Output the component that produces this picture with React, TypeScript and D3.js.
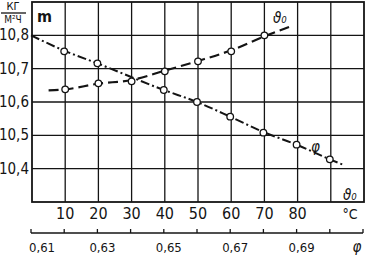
import React from 'react';
import * as d3 from 'd3';

// Размеры картинки и поля графика
const W = 369;
const H = 256;
const plot = { left: 32, right: 364, top: 2, bottom: 202 };

// Кривая ϑ₀ (°C) — пунктир
const tempT = [10, 20, 30, 40, 50, 60, 70];
const tempM = [10.638, 10.656, 10.662, 10.692, 10.722, 10.752, 10.8];
const tempLineT = [5, 10, 20, 30, 40, 50, 60, 70, 78];
const tempLineM = [10.635, 10.638, 10.655, 10.666, 10.694, 10.723, 10.755, 10.797, 10.827];

// Кривая φ — штрихпунктир
const phiX = [0.62, 0.63, 0.65, 0.66, 0.67, 0.68, 0.69, 0.70];
const phiM = [10.752, 10.716, 10.636, 10.6, 10.556, 10.508, 10.472, 10.428];
const phiLineX = [0.61, 0.62, 0.63, 0.65, 0.66, 0.67, 0.68, 0.69, 0.70, 0.704];
const phiLineM = [10.8, 10.754, 10.716, 10.636, 10.6, 10.556, 10.51, 10.472, 10.428, 10.412];

// Подписи осей
const yTicks = [10.4, 10.5, 10.6, 10.7, 10.8];
const tGrid = [10, 20, 30, 40, 50, 60, 70, 80, 90];
const tLabels = [10, 20, 30, 40, 50, 60, 70, 80];
const phiTicks = d3.range(0, 11).map(i => 0.61 + i * 0.01);
const phiLabels = [0.61, 0.63, 0.65, 0.67, 0.69];

const ink = '#141414';
const font = '"Liberation Sans Narrow", "DejaVu Sans Condensed", "Liberation Sans", sans-serif';

export default function App() {
  const x = d3.scaleLinear().domain([0, 100]).range([plot.left, plot.right]);
  const xPhi = d3.scaleLinear().domain([0.61, 0.71]).range([31, 363]);
  const y = d3.scaleLinear().domain([10.3, 10.9]).range([plot.bottom, plot.top]);

  const tempLine = d3.line<number>()
    .x((_, i) => x(tempLineT[i]))
    .y(d => y(d))
    .curve(d3.curveMonotoneX);
  const phiLine = d3.line<number>()
    .x((_, i) => xPhi(phiLineX[i]))
    .y(d => y(d))
    .curve(d3.curveMonotoneX);

  const comma = (v: number) => v.toFixed(2).replace('.', ',');
  const axisY = 233;

  return (
    <svg width={W} height={H} style={{ position: 'absolute', left: 0, top: 0, background: '#fff' }}
      fontFamily={font} fill={ink}>
      {/* сетка */}
      {yTicks.map(v => (
        <line key={'h' + v} x1={plot.left} x2={plot.right} y1={y(v)} y2={y(v)} stroke={ink} strokeWidth={1.3} />
      ))}
      {tGrid.map(v => (
        <line key={'v' + v} x1={x(v)} x2={x(v)} y1={plot.top} y2={plot.bottom} stroke={ink} strokeWidth={1.3} />
      ))}
      <rect x={plot.left} y={plot.top} width={plot.right - plot.left} height={plot.bottom - plot.top}
        fill="none" stroke={ink} strokeWidth={1.8} />

      {/* кривые */}
      <path d={phiLine(phiLineM) || ''} fill="none" stroke={ink} strokeWidth={2}
        strokeDasharray="9 3 2 3" />
      <path d={tempLine(tempLineM) || ''} fill="none" stroke={ink} strokeWidth={2.2}
        strokeDasharray="10 5" />
      {phiX.map((v, i) => (
        <circle key={'p' + v} cx={xPhi(v)} cy={y(phiM[i])} r={3.3} fill="#fff" stroke={ink} strokeWidth={1.3} />
      ))}
      {tempT.map((v, i) => (
        <circle key={'t' + v} cx={x(v)} cy={y(tempM[i])} r={3.3} fill="#fff" stroke={ink} strokeWidth={1.3} />
      ))}

      {/* подписи оси Y */}
      {yTicks.map(v => (
        <text key={'yl' + v} x={29} y={y(v) + 5} fontSize={15} textAnchor="end">
          {v.toFixed(1).replace('.', ',')}
        </text>
      ))}
      <text x={13} y={10} fontSize={11} textAnchor="middle">КГ</text>
      <line x1={1} x2={26} y1={13} y2={13} stroke={ink} strokeWidth={1.3} />
      <text x={13} y={23} fontSize={10} textAnchor="middle">М²Ч</text>
      <text x={37} y={22} fontSize={16} fontWeight="bold">m</text>

      {/* подписи кривых */}
      <text x={273} y={23} fontSize={15} fontStyle="italic">ϑ₀</text>
      <text x={311} y={152} fontSize={15} fontStyle="italic">φ</text>
      <text x={343} y={200} fontSize={15} fontStyle="italic">ϑ₀</text>

      {/* ось температуры */}
      {tLabels.map(v => (
        <text key={'tl' + v} x={x(v)} y={219} fontSize={16} textAnchor="middle">{v}</text>
      ))}
      <text x={350} y={219} fontSize={14} textAnchor="middle">°C</text>

      {/* ось φ */}
      <line x1={xPhi(0.61)} x2={xPhi(0.71)} y1={axisY} y2={axisY} stroke={ink} strokeWidth={1.5} />
      {phiTicks.map(v => (
        <line key={'pt' + v} x1={xPhi(v)} x2={xPhi(v)} y1={axisY} y2={axisY - 4} stroke={ink} strokeWidth={1.3} />
      ))}
      {phiLabels.map((v, i) => (
        <text key={'pl' + v} x={i === 0 ? xPhi(v) - 2 : xPhi(v) + 5} y={252} fontSize={13}
          textAnchor={i === 0 ? 'start' : 'middle'}>{comma(v)}</text>
      ))}
      <text x={357} y={252} fontSize={15} textAnchor="middle" fontStyle="italic">φ</text>
    </svg>
  );
}
